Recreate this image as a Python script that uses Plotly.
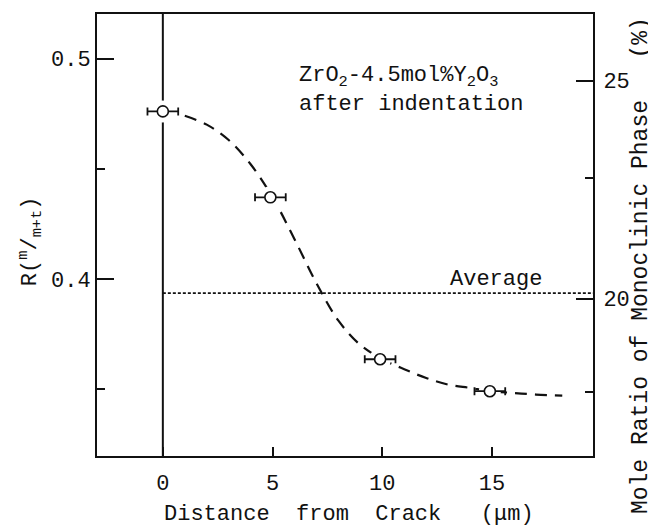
import plotly.graph_objects as go

# ---- data ----
distance_um = [0.0, 4.9, 9.9, 14.9]
ratio_R = [0.476, 0.437, 0.3635, 0.349]
distance_err = [0.7, 0.7, 0.7, 0.7]

curve_x = [1.0, 2.0, 3.0, 4.0, 5.0, 6.0, 7.0, 8.0, 9.0, 10.0, 11.0, 12.0, 13.0, 14.0, 15.0, 16.0, 17.0, 18.2]
curve_R = [0.474, 0.470, 0.463, 0.452, 0.437, 0.418, 0.398, 0.381, 0.370, 0.3635, 0.359, 0.355, 0.352,
           0.3505, 0.349, 0.3482, 0.3475, 0.347]

average_R = 0.3935
average_x = [0.0, 19.6]

x_ticks = [0, 5, 10, 15]
mole_major = [25, 20]
mole_major_R = [0.4899, 0.391]
mole_minor_R = [0.4456, 0.3485]

FONT = "Liberation Mono, Courier New, monospace"
BLACK = "#111111"
FS = 22

fig = go.Figure()

# dashed fitted curve
fig.add_trace(go.Scatter(x=curve_x, y=curve_R, mode="lines", line_shape="spline",
                         line=dict(color=BLACK, width=2.2, dash="12px,8px"),
                         hoverinfo="skip", showlegend=False))

# average dotted line (on right axis, same range)
fig.add_trace(go.Scatter(x=average_x, y=[average_R] * len(average_x), mode="lines",
                         line=dict(color=BLACK, width=1.6, dash="3px,2px"),
                         yaxis="y2", showlegend=False, hoverinfo="skip"))

# white halo under points (gaps in lines around markers)
fig.add_trace(go.Scatter(x=distance_um, y=ratio_R, mode="markers",
                         marker=dict(size=22, color="white", line=dict(width=0)),
                         hoverinfo="skip", showlegend=False))

# data points with horizontal error bars
fig.add_trace(go.Scatter(x=distance_um, y=ratio_R, mode="markers",
                         marker=dict(symbol="circle", size=11, color="white",
                                     line=dict(color=BLACK, width=1.6)),
                         error_x=dict(type="data", array=distance_err, color=BLACK,
                                      thickness=1.8, width=4),
                         showlegend=False))

# vertical line at x = 0
fig.add_shape(type="line", xref="x", yref="paper", x0=0, x1=0, y0=0, y1=1,
              line=dict(color=BLACK, width=2), layer="below")

yr = [0.3196, 0.5202]

fig.update_layout(
    width=648, height=519,
    margin=dict(l=89, r=63, t=4, b=71),
    paper_bgcolor="white", plot_bgcolor="white",
    font=dict(family=FONT, size=FS, color=BLACK),
    xaxis=dict(range=[-3, 19.6], tickvals=x_ticks, ticks="inside", ticklen=9, tickwidth=2,
               tickcolor=BLACK, showline=True, linecolor=BLACK, linewidth=2, mirror=True,
               showgrid=False, zeroline=False, ticklabelstandoff=6,
               tickfont=dict(family=FONT, size=FS)),
    yaxis=dict(range=yr, tickvals=[0.4, 0.5], ticktext=["0.4", "0.5"], ticks="inside",
               ticklen=17, tickwidth=2, tickcolor=BLACK, showline=True, linecolor=BLACK,
               linewidth=2, showgrid=False, zeroline=False,
               minor=dict(tickvals=[0.35, 0.45], ticks="inside", ticklen=8, tickwidth=2,
                          tickcolor=BLACK, showgrid=False),
               tickfont=dict(family=FONT, size=FS)),
    yaxis2=dict(range=yr, overlaying="y", side="right", anchor="x",
                tickvals=mole_major_R, ticktext=[str(v) for v in mole_major],
                ticks="inside", ticklen=17, tickwidth=2, tickcolor=BLACK,
                showline=True, linecolor=BLACK, linewidth=2, showgrid=False, zeroline=False,
                ticklabelstandoff=4,
                minor=dict(tickvals=mole_minor_R, ticks="inside", ticklen=8, tickwidth=2,
                           tickcolor=BLACK, showgrid=False),
                tickfont=dict(family=FONT, size=FS)),
)

annos = [
    dict(text="ZrO<sub>2</sub>-4.5mol%Y<sub>2</sub>O<sub>3</sub>", x=6.1, y=0.4915,
         xref="x", yref="y", xanchor="left", yanchor="middle"),
    dict(text="after indentation", x=6.1, y=0.4791, xref="x", yref="y",
         xanchor="left", yanchor="middle"),
    dict(text="Average", x=15.2, y=0.3995, xref="x", yref="y", xanchor="center", yanchor="middle"),
    dict(text="Distance  from  Crack   (μm)", x=0.508, y=-0.132, xref="paper", yref="paper",
         xanchor="center", yanchor="middle"),
    dict(text="R(<sup>m</sup>/<sub>m+t</sub>)", x=-0.135, y=0.486, xref="paper", yref="paper",
         xanchor="center", yanchor="middle", textangle=-90),
    dict(text="Mole Ratio of Monoclinic Phase   (%)", x=1.097, y=0.43, xref="paper",
         yref="paper", xanchor="center", yanchor="middle", textangle=-90,
         font=dict(family=FONT, size=23, color=BLACK)),
]
for a in annos:
    a.setdefault("showarrow", False)
    a.setdefault("font", dict(family=FONT, size=FS, color=BLACK))
    fig.add_annotation(**a)

fig.write_html("out.html")
